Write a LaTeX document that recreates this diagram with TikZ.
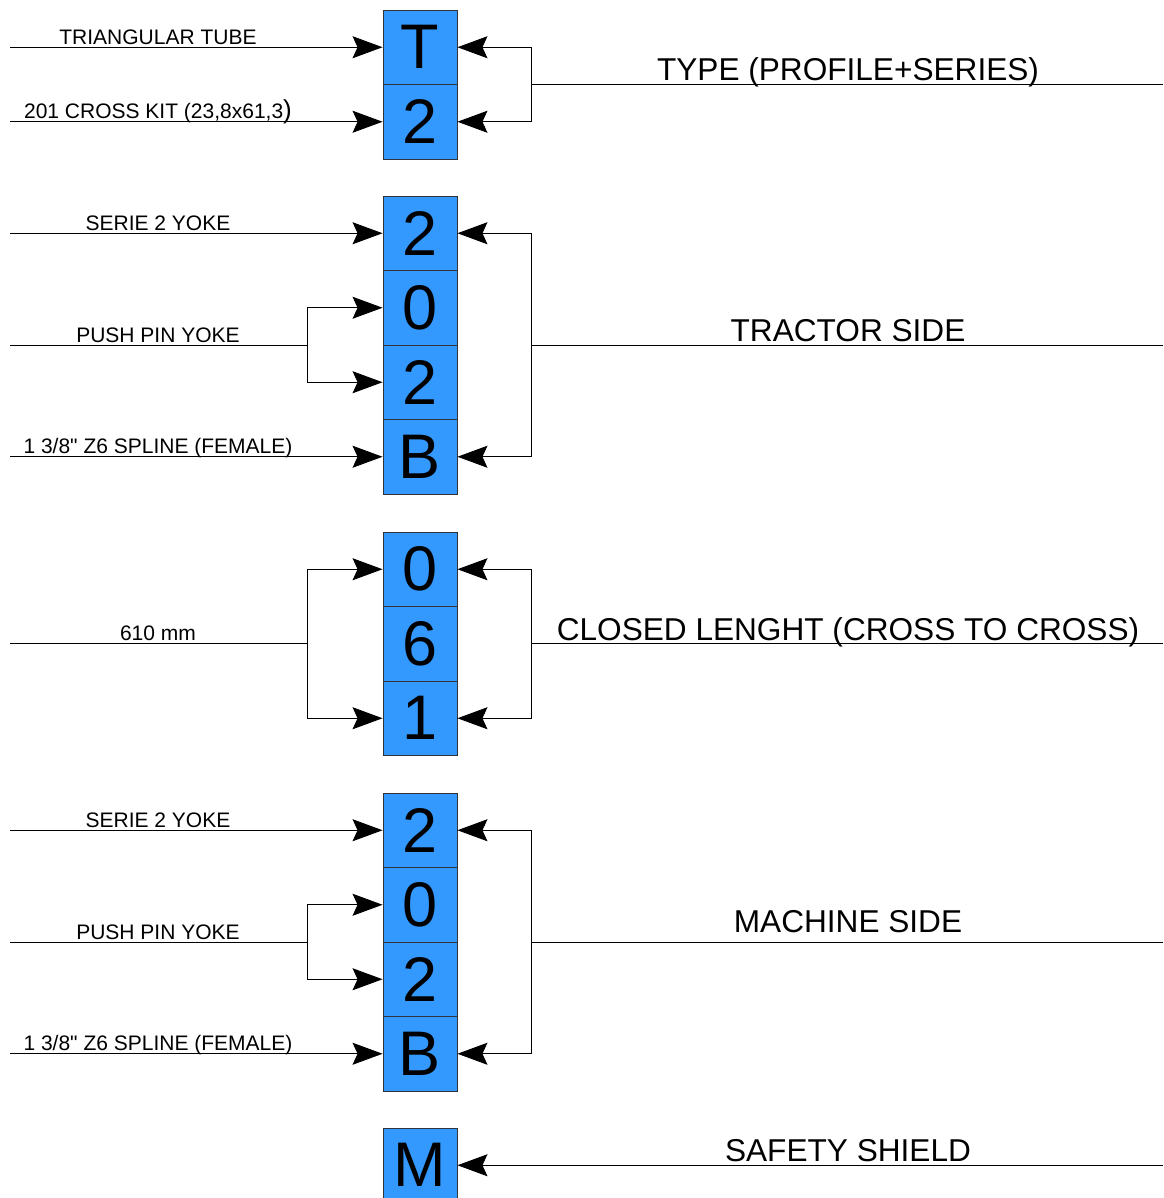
\documentclass[tikz,border=0pt]{standalone}
\usepackage{fontspec}
\setmainfont{Liberation Sans}[Ligatures=TeXOff]
\usetikzlibrary{arrows.meta}
\definecolor{cellblue}{HTML}{3399FF}
\tikzset{
  cell/.style={draw=black!80, line width=0.9pt, fill=cellblue, minimum width=74pt, minimum height=74.5pt, inner sep=0pt, font=\fontsize{63}{63}\selectfont},
  arr/.style={-{Stealth[length=30pt,width=22pt,inset=5pt]}, line width=0.9pt},
  ln/.style={line width=0.9pt},
  llab/.style={anchor=base, inner sep=0pt, font=\fontsize{21}{24}\selectfont},
  rlab/.style={anchor=base, inner sep=0pt, font=\fontsize{31.6}{36}\selectfont}
}
\begin{document}
\begin{tikzpicture}[x=1pt,y=-1pt]
\useasboundingbox (0,0) rectangle (1163,1198);
\fill[white] (0,0) rectangle (1163,1198);
% cells
\node[cell] (cT) at (420,47.25) {T};
\node[cell] (c2) at (420,121.75) {2};
\node[cell] (a1) at (420,233.25) {2};
\node[cell] (a2) at (420,307.75) {0};
\node[cell] (a3) at (420,382.25) {2};
\node[cell] (a4) at (420,456.75) {B};
\node[cell] (b1) at (420,569.25) {0};
\node[cell] (b2) at (420,643.75) {6};
\node[cell] (b3) at (420,718.25) {1};
\node[cell] (d1) at (420,830.25) {2};
\node[cell] (d2) at (420,904.75) {0};
\node[cell] (d3) at (420,979.25) {2};
\node[cell] (d4) at (420,1053.75) {B};
\node[cell] (cM) at (420,1165.25) {M};
% left coordinates
\coordinate (lT) at (10,47.25);
\coordinate (l2) at (10,121.75);
\coordinate (la1) at (10,233.25);
\coordinate (la2) at (10,345);
\coordinate (ka2) at (307,345);
\coordinate (la4) at (10,456.75);
\coordinate (lb) at (10,643.75);
\coordinate (kb) at (307,643.75);
\coordinate (ld1) at (10,830.25);
\coordinate (ld2) at (10,942);
\coordinate (kd2) at (307,942);
\coordinate (ld4) at (10,1053.75);
% right coordinates
\coordinate (j1) at (531,84);
\coordinate (r1) at (1163,84);
\coordinate (j2) at (531,345);
\coordinate (r2) at (1163,345);
\coordinate (j3) at (531,643.75);
\coordinate (r3) at (1163,643.75);
\coordinate (j4) at (531,942);
\coordinate (r4) at (1163,942);
\coordinate (r5) at (1163,1165.25);
% left connectors
\draw[arr] (lT) -- (cT.west);
\draw[arr] (l2) -- (c2.west);
\draw[arr] (la1) -- (a1.west);
\draw[ln] (la2) -- (ka2);
\draw[arr] (ka2) |- (a2.west);
\draw[arr] (ka2) |- (a3.west);
\draw[arr] (la4) -- (a4.west);
\draw[ln] (lb) -- (kb);
\draw[arr] (kb) |- (b1.west);
\draw[arr] (kb) |- (b3.west);
\draw[arr] (ld1) -- (d1.west);
\draw[ln] (ld2) -- (kd2);
\draw[arr] (kd2) |- (d2.west);
\draw[arr] (kd2) |- (d3.west);
\draw[arr] (ld4) -- (d4.west);
% right connectors
\draw[ln] (r1) -- (j1);
\draw[arr] (j1) |- (cT.east);
\draw[arr] (j1) |- (c2.east);
\draw[ln] (r2) -- (j2);
\draw[arr] (j2) |- (a1.east);
\draw[arr] (j2) |- (a4.east);
\draw[ln] (r3) -- (j3);
\draw[arr] (j3) |- (b1.east);
\draw[arr] (j3) |- (b3.east);
\draw[ln] (r4) -- (j4);
\draw[arr] (j4) |- (d1.east);
\draw[arr] (j4) |- (d4.east);
\draw[arr] (r5) -- (cM.east);
% left labels
\node[llab] (tT) at (158,44.25) {TRIANGULAR TUBE};
\node[llab] (t2) at (158,118.75) {201 CROSS KIT (23,8x61,3{\fontsize{26}{26}\selectfont)}};
\node[llab] (ta1) at (158,230.25) {SERIE 2 YOKE};
\node[llab] (ta2) at (158,342) {PUSH PIN YOKE};
\node[llab] (ta4) at (158,453.75) {1 3/8" Z6 SPLINE (FEMALE)};
\node[llab] (tb) at (158,640.75) {610 mm};
\node[llab] (td1) at (158,827.25) {SERIE 2 YOKE};
\node[llab] (td2) at (158,939) {PUSH PIN YOKE};
\node[llab] (td4) at (158,1050.75) {1 3/8" Z6 SPLINE (FEMALE)};
% right labels
\node[rlab] (s1) at (848,80.5) {TYPE (PROFILE+SERIES)};
\node[rlab] (s2) at (848,341.5) {TRACTOR SIDE};
\node[rlab] (s3) at (848,640.25) {CLOSED LENGHT (CROSS TO CROSS)};
\node[rlab] (s4) at (848,932.5) {MACHINE SIDE};
\node[rlab] (s5) at (848,1161.75) {SAFETY SHIELD};
\end{tikzpicture}
\end{document}
